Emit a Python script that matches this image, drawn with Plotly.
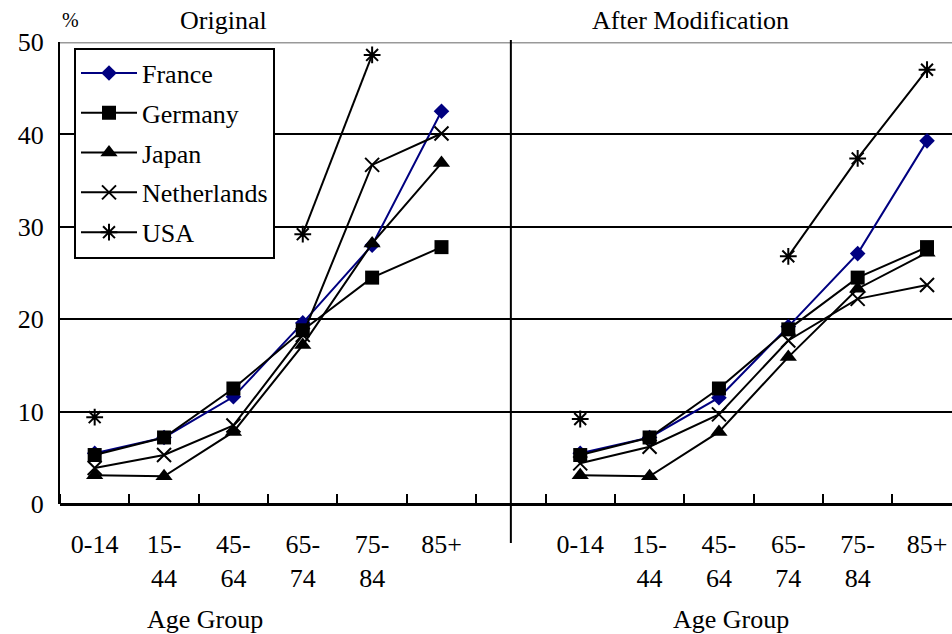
import plotly.graph_objects as go

age_groups = ["0-14", "15-<br>44", "45-<br>64", "65-<br>74", "75-<br>84", "85+"]
panels = ["Original", "After Modification"]

france_orig = [5.5, 7.2, 11.6, 19.6, 28.0, 42.5]
france_mod = [5.5, 7.2, 11.5, 19.2, 27.1, 39.3]
germany_orig = [5.3, 7.2, 12.5, 18.8, 24.5, 27.8]
germany_mod = [5.3, 7.2, 12.5, 18.9, 24.5, 27.8]
japan_orig = [3.1, 3.0, 7.8, 17.2, 28.2, 36.9]
japan_mod = [3.1, 3.0, 7.8, 15.9, 23.3, 27.2]
netherlands_orig = [3.9, 5.3, 8.5, 18.3, 36.7, 40.1]
netherlands_mod = [4.4, 6.2, 9.7, 17.7, 22.2, 23.7]
usa_orig = [9.4, None, None, 29.2, 48.6, None]
usa_mod = [9.2, None, None, 26.8, 37.4, 47.0]

n = len(age_groups)
# positions: left panel 0..5, gap slot 6, right panel 7..12
x_left = list(range(n))
x_right = [n + 1 + i for i in range(n)]
x_all = x_left + [n] + x_right
gap_slot = n

def join(a, b):
    return a + [None] + b

series = [
    ("France", france_orig, france_mod, "#000080", "diamond", 12),
    ("Germany", germany_orig, germany_mod, "black", "square", 14),
    ("Japan", japan_orig, japan_mod, "black", "triangle-up", 15),
    ("Netherlands", netherlands_orig, netherlands_mod, "black", "x-thin", 14),
    ("USA", usa_orig, usa_mod, "black", "asterisk", 14),
]

FONT = "Liberation Serif"
fig = go.Figure()
for name, a, b, color, sym, size in series:
    open_sym = sym in ("x-thin", "asterisk")
    fig.add_trace(go.Scatter(
        x=x_all, y=join(a, b), name=name, mode="lines+markers",
        line=dict(color=color, width=2),
        marker=dict(symbol=sym, size=size, color=color,
                    line=dict(color=color, width=2 if open_sym else 0)),
        connectgaps=False, legendgroup=name,
    ))

fig.update_layout(
    width=952, height=634,
    margin=dict(l=60, r=0, t=42, b=130),
    paper_bgcolor="white", plot_bgcolor="white",
    font=dict(family=FONT, size=26, color="black"),
    showlegend=True,
    legend=dict(x=0.0157, y=0.988, xanchor="left", yanchor="top",
                bgcolor="white", bordercolor="black", borderwidth=2,
                font=dict(family=FONT, size=26, color="black"),
                tracegroupgap=3, itemwidth=56),
    xaxis=dict(
        range=[-0.5, 12.36],
        tickvals=x_left + x_right,
        ticktext=age_groups + age_groups,
        ticks="", showgrid=False, zeroline=False,
        showline=False,
        tickfont=dict(family=FONT, size=26, color="black"),
        ticklabelstandoff=22,
        minor=dict(tick0=0.5, dtick=1, ticks="inside", ticklen=10,
                   tickwidth=2, tickcolor="black", showgrid=False),
    ),
    yaxis=dict(
        range=[0, 50], tickvals=[0, 10, 20, 30, 40, 50],
        showgrid=True, gridcolor="black", gridwidth=2,
        zeroline=True, zerolinecolor="black", zerolinewidth=3,
        showline=True, linecolor="black", linewidth=2,
        ticks="inside", ticklen=10, tickwidth=2, tickcolor="black",
        tickfont=dict(family=FONT, size=26, color="black"),
        ticklabelstandoff=9,
    ),
)

# grey top line at 50
fig.add_shape(type="line", xref="paper", yref="y", x0=0, x1=1, y0=50, y1=50,
              line=dict(color="#999999", width=3))
# divider between panels
fig.add_shape(type="line", xref="x", yref="paper", x0=gap_slot, x1=gap_slot,
              y0=-0.0844, y1=1.0043, line=dict(color="black", width=2))

ann = [
    dict(text="%", x=0.012, y=1.047, size=20),
    dict(text=panels[0], x=0.183, y=1.047, size=26),
    dict(text=panels[1], x=0.707, y=1.047, size=26),
    dict(text="Age Group", x=0.1626, y=-0.251, size=26),
    dict(text="Age Group", x=0.752, y=-0.251, size=26),
]
for a in ann:
    fig.add_annotation(text=a["text"], x=a["x"], y=a["y"], xref="paper", yref="paper",
                       xanchor="center", yanchor="middle", showarrow=False,
                       font=dict(family=FONT, size=a["size"], color="black"))

fig.write_html("out.html")
